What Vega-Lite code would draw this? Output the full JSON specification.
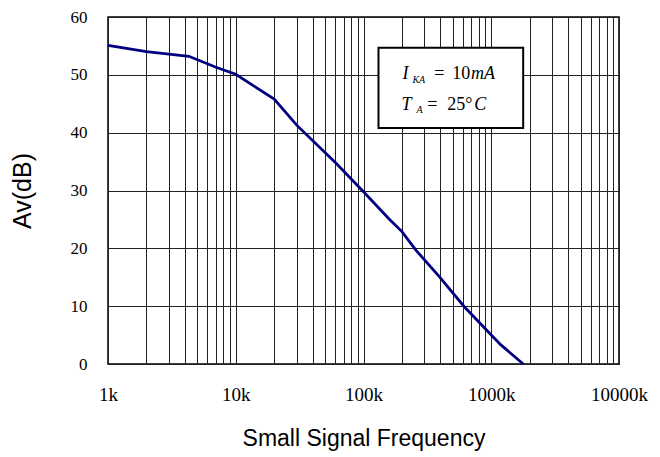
{
  "$schema": "https://vega.github.io/schema/vega-lite/v6.json",
  "autosize": "none",
  "width": 511,
  "height": 347,
  "padding": {"left": 108, "top": 17, "right": 41, "bottom": 93},
  "background": "white",
  "config": {
    "view": {"stroke": "black", "strokeWidth": 1.5}
  },
  "layer": [
    {
      "data": {"values": [
        {"f": 1, "av": 55.1}, {"f": 2, "av": 54.0}, {"f": 4.3, "av": 53.2}, {"f": 7, "av": 51.3},
        {"f": 10, "av": 50.1}, {"f": 20, "av": 45.8}, {"f": 30, "av": 41.3}, {"f": 61, "av": 34.7},
        {"f": 100, "av": 29.8}, {"f": 160, "av": 25.0}, {"f": 200, "av": 22.9}, {"f": 257, "av": 19.7},
        {"f": 392, "av": 15.1}, {"f": 615, "av": 9.9}, {"f": 1000, "av": 5.0}, {"f": 1190, "av": 3.3},
        {"f": 1780, "av": 0}
      ]},
      "mark": {"type": "line", "color": "#000080", "strokeWidth": 2.8},
      "encoding": {
        "x": {"field": "f", "type": "quantitative",
          "scale": {"type": "log", "domain": [1, 10000], "nice": false},
          "axis": {"title": "Small Signal Frequency", "titlePadding": 23, "labelPadding": 21,
            "domain": false, "ticks": false, "gridColor": "#222", "gridOpacity": 1, "gridWidth": 1,
            "labelFont": "Liberation Serif", "labelFontSize": 19, "labelColor": "black",
            "titleFont": "Liberation Sans", "titleFontSize": 23, "titleFontWeight": "normal", "titleColor": "black",
            "values": [1,2,3,4,5,6,7,8,9,10,20,30,40,50,60,70,80,90,100,200,300,400,500,600,700,800,900,1000,2000,3000,4000,5000,6000,7000,8000,9000,10000],
            "labelExpr": "indexof([1,10,100,1000,10000], datum.value) >= 0 ? datum.value + 'k' : ''",
            "labelOverlap": false, "labelFlush": false, "labelBound": false}},
        "y": {"field": "av", "type": "quantitative",
          "scale": {"domain": [0, 60], "nice": false},
          "axis": {"title": "Av(dB)", "titlePadding": 35, "labelPadding": 21,
            "domain": false, "ticks": false, "gridColor": "#222", "gridOpacity": 1, "gridWidth": 1,
            "labelFont": "Liberation Serif", "labelFontSize": 17, "labelColor": "black",
            "titleFont": "Liberation Sans", "titleFontSize": 25, "titleFontWeight": "normal", "titleColor": "black",
            "values": [0,5,10,15,20,25,30,35,40,45,50,55,60],
            "labelExpr": "datum.value % 10 == 0 ? datum.label : ''",
            "labelOverlap": false, "labelFlush": false, "labelBound": false}}
      }
    },
    {
      "data": {"values": [{"x1": 131, "x2": 1778, "y1": 40.8, "y2": 54.7}]},
      "mark": {"type": "rect", "fill": "white", "stroke": "black", "strokeWidth": 2},
      "encoding": {
        "x": {"field": "x1", "type": "quantitative"},
        "x2": {"field": "x2"},
        "y": {"field": "y1", "type": "quantitative"},
        "y2": {"field": "y2"}
      }
    },
    {
      "data": {"values": [
        {"t": "I", "f": 201.7, "v": 49.3}, {"t": "mA", "f": 693.9, "v": 49.3},
        {"t": "T", "f": 198.1, "v": 43.9}, {"t": "C", "f": 736.6, "v": 43.9}
      ]},
      "mark": {"type": "text", "font": "Liberation Serif", "fontSize": 18, "fontStyle": "italic", "align": "left", "baseline": "alphabetic", "color": "black"},
      "encoding": {
        "x": {"field": "f", "type": "quantitative"},
        "y": {"field": "v", "type": "quantitative"},
        "text": {"field": "t"}
      }
    },
    {
      "data": {"values": [
        {"t": "KA", "f": 241.4, "v": 48.6}, {"t": "A", "f": 259.5, "v": 43.4}
      ]},
      "mark": {"type": "text", "font": "Liberation Serif", "fontSize": 10, "fontStyle": "italic", "align": "left", "baseline": "alphabetic", "color": "black"},
      "encoding": {
        "x": {"field": "f", "type": "quantitative"},
        "y": {"field": "v", "type": "quantitative"},
        "text": {"field": "t"}
      }
    },
    {
      "data": {"values": [
        {"t": "=", "f": 358.6, "v": 49.3}, {"t": "10", "f": 495.9, "v": 49.3},
        {"t": "=", "f": 316.2, "v": 43.9}, {"t": "25°", "f": 453, "v": 43.9}
      ]},
      "mark": {"type": "text", "font": "Liberation Serif", "fontSize": 18, "align": "left", "baseline": "alphabetic", "color": "black"},
      "encoding": {
        "x": {"field": "f", "type": "quantitative"},
        "y": {"field": "v", "type": "quantitative"},
        "text": {"field": "t"}
      }
    }
  ]
}
